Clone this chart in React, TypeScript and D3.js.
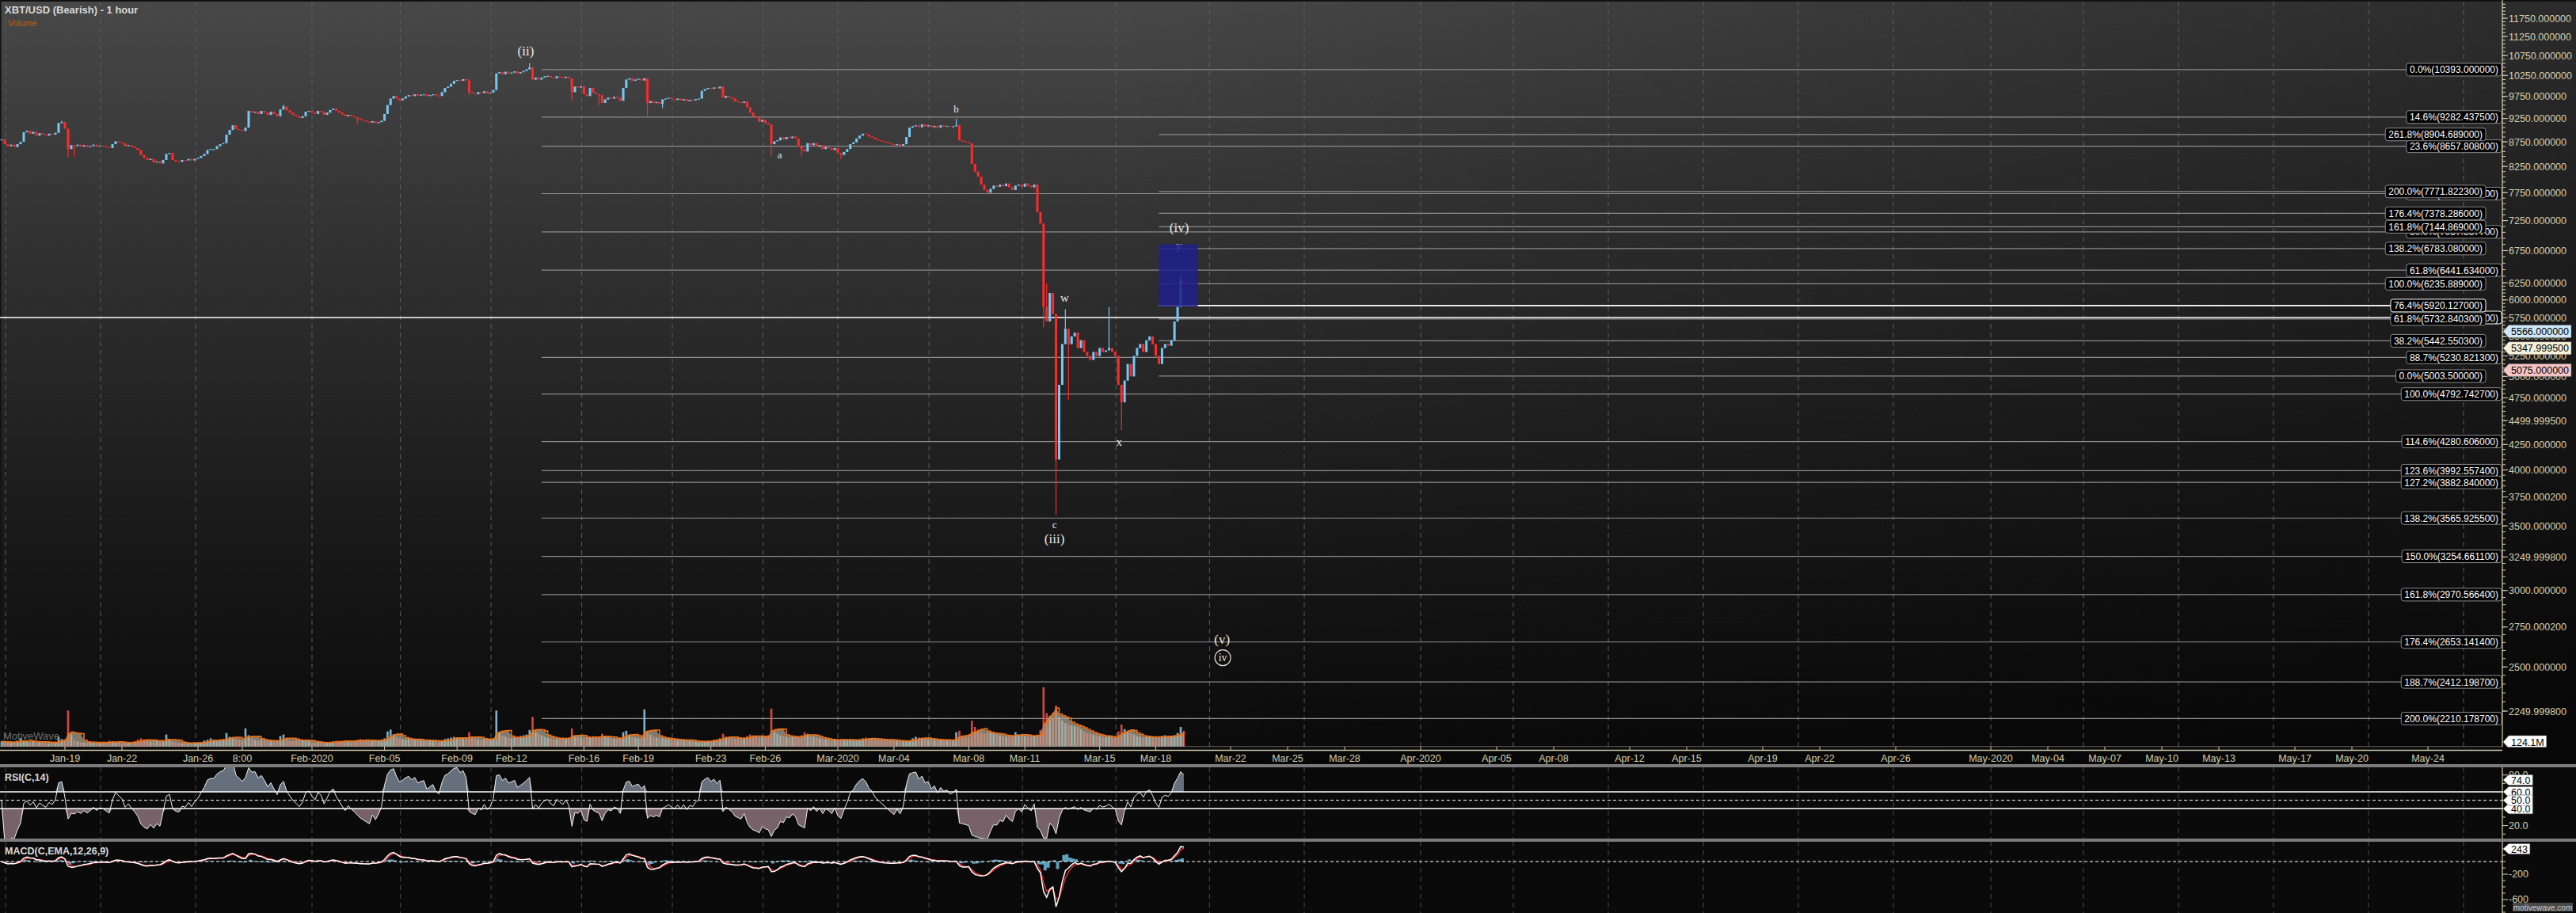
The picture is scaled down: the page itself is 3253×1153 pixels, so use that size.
import React, { useMemo } from 'react';
import * as d3 from 'd3';

// ---------------- data ----------------
// 4-hour closes, starting 2020-01-15 16:00 UTC
const janCloses = [8800, 8700,
  8660, 8690, 8640, 8700, 8750, 8950,
  8980, 8920, 8960, 8880, 8930, 8900,
  8880, 8920, 8900, 8940, 9150, 9170,
  9030, 8600, 8680, 8660, 8690, 8650,
  8680, 8640, 8660, 8690, 8650, 8670,
  8660, 8640, 8620, 8700, 8760, 8740,
  8720, 8660, 8680, 8650, 8620, 8580,
  8480, 8420, 8380, 8400, 8330, 8350,
  8310, 8380, 8500, 8520, 8380, 8350,
  8340, 8380, 8370, 8400, 8370, 8400,
  8420, 8460, 8500, 8580, 8600, 8600,
  8660, 8700, 8720, 8900, 9000, 9100,
  9020, 9000, 8980, 9050, 9420, 9380,
  9400, 9350, 9420, 9380, 9330, 9400,
  9350, 9300, 9450, 9520, 9430, 9380,
  9330, 9300, 9260, 9300, 9400, 9420];

const febCloses = [
  9380, 9350, 9420, 9400, 9330, 9380,
  9440, 9470, 9420, 9380, 9340, 9300,
  9330, 9300, 9280, 9250, 9220, 9200,
  9180, 9160, 9190, 9150, 9170, 9200,
  9350, 9550, 9700, 9760, 9700, 9660,
  9700, 9750, 9780, 9760, 9800, 9770,
  9790, 9800, 9760, 9780, 9800, 9770,
  9760, 9850, 9950, 9980, 10050, 10120,
  10140, 10120, 10160, 10130, 9850, 9820,
  9800, 9850, 9830, 9870, 9820, 9840,
  9900, 10300, 10330, 10280, 10340, 10300,
  10320, 10350, 10300, 10330, 10360, 10400,
  10450, 10150, 10200, 10150, 10200, 10230,
  10240, 10200, 10180, 10230, 10210, 10190,
  10220, 10180, 9850, 9980, 9960, 9990,
  9800, 9760, 9950, 9840, 9800, 9780,
  9600, 9680, 9720, 9700, 9740, 9720,
  9650, 9950, 10150, 10180, 10120, 10150,
  10170, 10130, 10180, 9600, 9640, 9600,
  9620, 9580, 9680, 9700, 9720, 9690,
  9670, 9700, 9660, 9690, 9640, 9670,
  9660, 9690, 9700, 9880, 9920, 9950,
  9930, 9960, 9940, 9980, 9720, 9760,
  9730, 9700, 9640, 9620, 9600, 9630,
  9500, 9380, 9300, 9260, 9180, 9220,
  9150, 9120, 8700, 8760, 8780, 8840,
  8800, 8850, 8830, 8860, 8820, 8650,
  8600, 8550, 8720, 8680, 8720, 8650,
  8680, 8600, 8640, 8620, 8580, 8620];

const marCloses = [
  8520, 8480, 8540, 8600, 8700, 8740,
  8820, 8880, 8920, 8900, 8860, 8840,
  8800, 8780, 8760, 8740, 8720, 8700,
  8680, 8700, 8670, 8700, 8850, 9050,
  9080, 9100, 9060, 9120, 9080, 9100,
  9060, 9090, 9050, 9100, 9080, 9090,
  9070, 9080, 9100, 8780, 8760, 8740,
  8720, 8300, 8150, 8050, 7900, 7800,
  7750, 7820, 7880, 7860, 7900, 7870,
  7920, 7850, 7800, 7880, 7900, 7860,
  7920, 7880, 7850, 7900, 7400, 7200,
  5900, 5700, 6100, 5800, 4100, 4900,
  5400, 5600, 5400, 5500, 5550, 5350,
  5450, 5300, 5250, 5200, 5300, 5250,
  5350, 5300, 5320, 5350, 5300, 5250,
  4900, 4700, 4950, 5150, 5000, 5250,
  5350, 5400, 5300, 5450, 5500, 5400,
  5250, 5150, 5350, 5400, 5380, 5450,
  5700, 5900, 6300, 6250];

// [bar index, low (0 = none), high (0 = none)]
const wicks: [number, number, number][] = [
  [19, 0, 9200], [21, 8440, 0], [23, 8440, 0], [89, 0, 9560], [113, 9120, 0],
  [150, 9780, 10170], [170, 0, 10550], [184, 9650, 0], [193, 9550, 0], [209, 9300, 0],
  [214, 9480, 0], [250, 8450, 0], [260, 8450, 0], [273, 8400, 0], [310, 0, 9240],
  [338, 5620, 7170], [339, 0, 6240], [342, 3591, 0], [343, 4200, 0], [345, 0, 5870],
  [346, 4730, 0], [359, 0, 5900], [363, 4400, 0], [382, 0, 6380],
];

// volume per 4h bar (millions, hourly average)
const janVolume = [140, 120,
  130, 110, 120, 160, 220, 150,
  130, 110, 150, 120, 140, 130,
  100, 90, 110, 130, 260, 200,
  180, 950, 320, 170, 140, 120,
  110, 100, 130, 120, 110, 100,
  100, 110, 160, 140, 120, 110,
  100, 100, 110, 130, 150, 190,
  220, 180, 160, 140, 180, 150,
  160, 140, 320, 170, 140, 110,
  100, 90, 100, 100, 90, 110,
  110, 120, 160, 180, 220, 160,
  140, 180, 200, 360, 260, 220,
  200, 180, 160, 480, 300, 220,
  180, 160, 190, 170, 150, 160,
  140, 160, 280, 320, 200, 160,
  150, 170, 200, 180, 160, 150];
const febVolume = [
  110, 100, 120, 110, 100, 110,
  120, 140, 160, 150, 130, 160,
  150, 140, 160, 180, 200, 170,
  160, 150, 180, 170, 150, 190,
  220, 400, 450, 320, 260, 220,
  200, 180, 220, 200, 180, 190,
  160, 150, 170, 180, 160, 140,
  130, 160, 200, 220, 240, 260,
  240, 210, 220, 200, 380, 260,
  220, 200, 180, 210, 190, 200,
  220, 950, 380, 290, 260, 240,
  220, 240, 260, 280, 300, 320,
  440, 780, 380, 340, 300, 260,
  240, 220, 210, 200, 220, 240,
  220, 240, 480, 280, 260, 240,
  220, 260, 240, 280, 260, 240,
  340, 260, 240, 220, 210, 220,
  230, 380, 420, 300, 260, 240,
  220, 230, 980, 380, 320, 260,
  240, 220, 230, 210, 200, 190,
  180, 170, 190, 180, 170, 160,
  140, 130, 120, 140, 150, 160,
  160, 180, 200, 220, 340, 260,
  240, 220, 210, 230, 220, 240,
  280, 320, 300, 260, 240, 260,
  280, 300, 1000, 380, 340, 300,
  280, 260, 240, 260, 280, 260,
  300, 380, 340, 280, 260, 240,
  220, 200, 190, 180, 170, 190];
const marVolume = [
  180, 200, 190, 180, 170, 160,
  180, 200, 220, 240, 220, 200,
  190, 180, 200, 190, 180, 170,
  160, 150, 140, 150, 160, 170,
  220, 260, 240, 220, 210, 200,
  190, 180, 170, 180, 190, 180,
  170, 160, 380, 420, 260, 240,
  260, 680, 520, 440, 380, 340,
  360, 380, 340, 320, 300, 280,
  260, 280, 300, 380, 320, 300,
  280, 260, 300, 280, 320, 440,
  1560, 880, 800, 740, 1080, 780,
  680, 620, 580, 560, 540, 520,
  460, 400, 360, 340, 320, 300,
  280, 260, 250, 300, 240, 230,
  400, 580, 460, 400, 360, 320,
  280, 260, 240, 260, 280, 250,
  240, 260, 280, 300, 280, 260,
  300, 360, 520, 420];

// Fibonacci sets: [percent, price]
const fibSetA: [string, number][] = [
  ['0.0%', 10393.0], ['14.6%', 9282.4375], ['23.6%', 8657.808], ['38.2%', 7732.2094],
  ['50.0%', 7057.8877], ['61.8%', 6441.634], ['76.4%', 5753.3034], ['88.7%', 5230.8213],
  ['100.0%', 4792.7427], ['114.6%', 4280.606], ['123.6%', 3992.5574], ['127.2%', 3882.84],
  ['138.2%', 3565.9255], ['150.0%', 3254.6611], ['161.8%', 2970.5664], ['176.4%', 2653.1414],
  ['188.7%', 2412.1987], ['200.0%', 2210.1787],
];
const fibSetB: [string, number][] = [
  ['261.8%', 8904.689], ['200.0%', 7771.8223], ['176.4%', 7378.286], ['161.8%', 7144.869],
  ['138.2%', 6783.08], ['100.0%', 6235.889], ['76.4%', 5920.127], ['61.8%', 5732.8403],
  ['38.2%', 5442.5503], ['0.0%', 5003.5],
];

const priceTicks = [11750, 11250, 10750, 10250, 9750, 9250, 8750, 8250, 7750, 7250, 6750, 6250,
  6000, 5750, 5500, 5250, 5000, 4750, 4499.9995, 4250, 4000, 3750.0002, 3500, 3249.9998, 3000,
  2750.0002, 2500, 2249.9998];

const priceTags: [string, number, string][] = [
  ['5566.000000', 5566, '#cfe7f8'],
  ['5347.999500', 5347.9995, '#f5f1d9'],
  ['5075.000000', 5075, '#f6c4c4'],
];

// [label, month (0-based), day, hour]
const dateLabels: [string, number, number, number][] = [
  ['Jan-19', 0, 19, 0], ['Jan-22', 0, 22, 0], ['Jan-26', 0, 26, 0], ['8:00', 0, 28, 8],
  ['Feb-2020', 1, 1, 0], ['Feb-05', 1, 5, 0], ['Feb-09', 1, 9, 0], ['Feb-12', 1, 12, 0],
  ['Feb-16', 1, 16, 0], ['Feb-19', 1, 19, 0], ['Feb-23', 1, 23, 0], ['Feb-26', 1, 26, 0],
  ['Mar-2020', 2, 1, 0], ['Mar-04', 2, 4, 0], ['Mar-08', 2, 8, 0], ['Mar-11', 2, 11, 0],
  ['Mar-15', 2, 15, 0], ['Mar-18', 2, 18, 0], ['Mar-22', 2, 22, 0], ['Mar-25', 2, 25, 0],
  ['Mar-28', 2, 28, 0], ['Apr-2020', 3, 1, 0], ['Apr-05', 3, 5, 0], ['Apr-08', 3, 8, 0],
  ['Apr-12', 3, 12, 0], ['Apr-15', 3, 15, 0], ['Apr-19', 3, 19, 0], ['Apr-22', 3, 22, 0],
  ['Apr-26', 3, 26, 0], ['May-2020', 4, 1, 0], ['May-04', 4, 4, 0], ['May-07', 4, 7, 0],
  ['May-10', 4, 10, 0], ['May-13', 4, 13, 0], ['May-17', 4, 17, 0], ['May-20', 4, 20, 0],
  ['May-24', 4, 24, 0],
];

// wave labels: text, month, day, hour, price, font size, circled
const waveLabels: [string, number, number, number, number, number, boolean][] = [
  ['(ii)', 1, 12, 19, 10870, 17, false],
  ['a', 1, 26, 19, 8489, 13, false],
  ['b', 2, 7, 8, 9472, 13, false],
  ['c', 2, 12, 14, 3512, 13, false],
  ['(iii)', 2, 12, 14, 3394, 17, false],
  ['w', 2, 13, 3, 6030, 15, false],
  ['x', 2, 16, 1, 4274, 15, false],
  ['(iv)', 2, 19, 6, 7135, 17, false],
  ['(v)', 2, 21, 13, 2670, 17, false],
  ['iv', 2, 21, 14, 2555, 14, true],
];

const rsiLevels = [60, 50, 40];

// ---------------- layout ----------------
const W = 3253;
const H = 1153;
const AXIS_X = 3160;
const MAIN_BOTTOM = 943;
const DATE_LINE = 947.5;
const RSI_TOP = 969, RSI_BOTTOM = 1059;
const MACD_TOP = 1063, MACD_BOTTOM = 1153;
const FONT = '"Liberation Sans", Arial, Helvetica, sans-serif';
const SERIF = '"Liberation Serif", "DejaVu Serif", Times, serif';
const BEIGE = '#d6cfae';
const UP = '#76c8f4';
const DOWN = '#ff2a2a';

const utc = (m: number, d: number, h = 0) => new Date(Date.UTC(2020, m, d, h));
const START = Date.UTC(2020, 0, 15, 16);
const STEP = 4 * 3600 * 1000;

let measureCtx: CanvasRenderingContext2D | null = null;
function textW(t: string, font: string) {
  if (!measureCtx && typeof document !== 'undefined') measureCtx = document.createElement('canvas').getContext('2d');
  if (!measureCtx) return t.length * 6.5;
  measureCtx.font = font;
  return measureCtx.measureText(t).width;
}

export default function App() {
  const model = useMemo(() => {
    const closes = [...janCloses, ...febCloses, ...marCloses];
    const volumes = [...janVolume, ...febVolume, ...marVolume];
    const wickMap = new Map(wicks.map((w) => [w[0], w]));
    const bars = closes.map((c, i) => {
      const o = i === 0 ? c : closes[i - 1];
      let hi = Math.max(o, c), lo = Math.min(o, c);
      const w = wickMap.get(i);
      if (w) { if (w[1]) lo = Math.min(lo, w[1]); if (w[2]) hi = Math.max(hi, w[2]); }
      return { t: new Date(START + i * STEP), o, c, hi, lo, up: c >= o, v: volumes[i] ?? 0 };
    });
    // RSI (Wilder smoothing, period 14)
    const aR = 1 - Math.pow(1 - 1 / 14, 2);
    let ag = 0, al = 0;
    const rsi = closes.map((c, i) => {
      if (i === 0) return 50;
      const d = c - closes[i - 1];
      const g = Math.max(d, 0), l = Math.max(-d, 0);
      if (i === 1) { ag = g; al = l; } else { ag += aR * (g - ag); al += aR * (l - al); }
      if (al === 0) return 100;
      return 100 - 100 / (1 + ag / al);
    });
    const hPer = 4;
    const alpha = (n: number) => 1 - Math.pow(1 - 2 / (n + 1), hPer);
    const af = alpha(12), as = alpha(26), asg = alpha(9);
    let ef = closes[0], es = closes[0], sg = 0;
    const macd: number[] = [], signal: number[] = [], hist: number[] = [];
    closes.forEach((c, i) => {
      ef += af * (c - ef); es += as * (c - es);
      const m = ef - es;
      sg = i === 0 ? m : sg + asg * (m - sg);
      macd.push(m); signal.push(sg); hist.push(m - sg);
    });
    const volMA = volumes.map((_, i) => d3.mean(volumes.slice(Math.max(0, i - 4), i + 1)) as number);
    return { bars, rsi, macd, signal, hist, volMA };
  }, []);

  const x = d3.scaleUtc()
    .domain([utc(0, 19), utc(1, 1), utc(2, 1), utc(2, 22), utc(4, 30)])
    .range([82, 394, 1058, 1554, 3210]);
  const y = d3.scaleLog().domain([11750, 2249.9998]).range([23, 898]);
  const volY = d3.scaleLinear().domain([0, 1600]).range([MAIN_BOTTOM, 866]);
  const rsiY = d3.scaleLinear().domain([40, 60]).range([1021.3, 1000]);
  const macdY = d3.scaleLinear().domain([0, -200]).range([1088, 1104]);

  const { bars, rsi, macd, signal, hist, volMA } = model;

  // grid dates
  const gridX: number[] = [];
  for (let m = 0; m < 5; m++) {
    for (const d of [1, 5, 10, 15, 20, 25]) {
      const gx = x(utc(m, d, d === 1 ? 0 : 21));
      if (gx >= 0 && gx <= AXIS_X) gridX.push(gx);
    }
  }

  const xA = x(utc(1, 13, 16));
  const xB = x(utc(2, 18, 4));
  const rightA = 3159, rightB = 3139;
  const fibFont = `12px ${FONT}`;

  const minorTicks: number[] = [];
  for (let p = 2250; p <= 12200; p += p < 6250 ? 50 : 100) minorTicks.push(p);

  const rsiLine = d3.line<number>().x((_, i) => x(bars[i].t)).y((v) => rsiY(v));
  const rsiUp = d3.area<number>().x((_, i) => x(bars[i].t)).y0(rsiY(60)).y1((v) => rsiY(Math.max(v, 60)));
  const rsiDn = d3.area<number>().x((_, i) => x(bars[i].t)).y0(rsiY(40)).y1((v) => rsiY(Math.min(v, 40)));
  const macdLine = d3.line<number>().x((_, i) => x(bars[i].t)).y((v) => macdY(v));
  const histArea = d3.area<number>().x((_, i) => x(bars[i].t)).y0(macdY(0)).y1((v) => macdY(v)).curve(d3.curveStepAfter);
  const volMAArea = d3.area<number>().x((_, i) => x(bars[i].t)).y0(MAIN_BOTTOM).y1((v) => volY(v));
  const volMALine = d3.line<number>().x((_, i) => x(bars[i].t)).y((v) => volY(v)).curve(d3.curveStepAfter);

  const fibLabel = (pct: string, price: number, right: number, key: string) => {
    const t = `${pct}(${price.toFixed(6)})`;
    const w = textW(t, fibFont) + 8;
    const yy = y(price);
    const white = pct === '76.4%';
    return (
      <g key={key}>
        <rect x={right - w} y={yy - 8} width={w} height={16} rx={3} fill="#000" stroke={white ? '#ffffff' : '#8a8a8a'} strokeWidth={1} />
        <text x={right - w + 4} y={yy + 0.5} fill="#ffffff" fontSize={12} fontFamily={FONT} dominantBaseline="central">{t}</text>
      </g>
    );
  };

  const tag = (label: string, yy: number, fill: string, key: string, h = 16, fs = 12.5) => {
    const w = textW(label, `${fs}px ${FONT}`) + 6;
    const x0 = AXIS_X + 1, x1 = AXIS_X + 8;
    return (
      <g key={key}>
        <path d={`M${x0},${yy} L${x1},${yy - h / 2} H${x1 + w} V${yy + h / 2} H${x1} Z`} fill={fill} stroke="#666" strokeWidth={0.5} />
        <text x={x1 + 3} y={yy + 0.5} fill="#000" fontSize={fs} fontFamily={FONT} dominantBaseline="central">{label}</text>
      </g>
    );
  };

  const boxTop = y(6850), boxBot = y(5905);
  const boxX0 = x(utc(2, 18, 4)), boxX1 = x(utc(2, 20, 6));

  return (
    <svg width={W} height={H} style={{ position: 'absolute', left: 0, top: 0, display: 'block' }} xmlns="http://www.w3.org/2000/svg">
      <defs>
        <linearGradient id="bgV" x1="0" y1="0" x2="0" y2="1">
          <stop offset="0" stopColor="#484848" />
          <stop offset="0.3" stopColor="#333333" />
          <stop offset="0.7" stopColor="#1a1a1a" />
          <stop offset="1" stopColor="#0b0b0b" />
        </linearGradient>
        <linearGradient id="bgH" x1="0" y1="0" x2="1" y2="0">
          <stop offset="0.43" stopColor="#000" stopOpacity="0" />
          <stop offset="1" stopColor="#000" stopOpacity="0.4" />
        </linearGradient>
        <clipPath id="mainClip"><rect x={0} y={0} width={AXIS_X} height={MAIN_BOTTOM} /></clipPath>
        <clipPath id="rsiClip"><rect x={0} y={RSI_TOP} width={AXIS_X} height={RSI_BOTTOM - RSI_TOP} /></clipPath>
        <clipPath id="macdClip"><rect x={0} y={MACD_TOP} width={AXIS_X} height={MACD_BOTTOM - MACD_TOP} /></clipPath>
      </defs>

      {/* backgrounds */}
      <rect x={0} y={0} width={W} height={H} fill="#0a0a0a" />
      <rect x={0} y={0} width={W} height={MAIN_BOTTOM} fill="url(#bgV)" />
      <rect x={0} y={0} width={W} height={MAIN_BOTTOM} fill="url(#bgH)" />
      <rect x={0} y={0} width={W} height={2} fill="#111" />
      <rect x={0} y={0} width={1.5} height={MAIN_BOTTOM} fill="#111" />

      {/* vertical grid */}
      {gridX.map((gx, i) => (
        <g key={`g${i}`}>
          <line x1={gx} x2={gx} y1={2} y2={MAIN_BOTTOM} stroke="#5d5d5d" strokeDasharray="6,5" strokeWidth={1} />
          <line x1={gx} x2={gx} y1={RSI_TOP} y2={RSI_BOTTOM} stroke="#4a4a4a" strokeDasharray="6,5" strokeWidth={1} />
          <line x1={gx} x2={gx} y1={MACD_TOP} y2={MACD_BOTTOM} stroke="#4a4a4a" strokeDasharray="6,5" strokeWidth={1} />
        </g>
      ))}

      <g clipPath="url(#mainClip)">
        {/* fib lines */}
        {fibSetA.map(([pct, p], i) => (
          <line key={`fa${i}`} x1={pct === '76.4%' ? 0 : xA} x2={rightA - 20} y1={y(p)} y2={y(p)}
            stroke={pct === '76.4%' ? '#ffffff' : '#8c8c8c'} strokeWidth={pct === '76.4%' ? 1.6 : 1.2} />
        ))}
        {fibSetB.map(([pct, p], i) => (
          <line key={`fb${i}`} x1={xB} x2={rightB - 20} y1={y(p)} y2={y(p)}
            stroke={pct === '76.4%' ? '#ffffff' : '#8c8c8c'} strokeWidth={pct === '76.4%' ? 1.6 : 1.2} />
        ))}

        {/* volume */}
        {bars.map((b, i) => (
          <rect key={`v${i}`} x={x(b.t) - 1.3} y={volY(b.v)} width={2.6} height={MAIN_BOTTOM - volY(b.v)}
            fill={b.up ? '#8cc4e0' : '#e8504a'} opacity={0.9} />
        ))}
        <path d={volMAArea(volMA) ?? ''} fill="#b3a996" opacity={0.7} />
        <path d={volMALine(volMA) ?? ''} fill="none" stroke="#f07010" strokeWidth={1.6} />
        <text x={4} y={934} fill="#9a9a9a" fontSize={13} fontFamily={FONT} opacity={0.7}>MotiveWave</text>

        {/* candles */}
        {bars.map((b, i) => {
          const cx = x(b.t);
          const col = b.up ? UP : DOWN;
          const yt = y(Math.max(b.o, b.c)), yb = y(Math.min(b.o, b.c));
          return (
            <g key={`c${i}`}>
              <line x1={cx} x2={cx} y1={y(b.hi)} y2={y(b.lo)} stroke={col} strokeWidth={1.2} />
              <rect x={cx - 1.5} y={yt} width={3} height={Math.max(1.2, yb - yt)} fill={col} />
            </g>
          );
        })}

        {/* y label under the box */}
        <text x={x(utc(2, 19, 6))} y={y(6830)} fill="#e6e6e6" fontSize={15} fontFamily={SERIF} textAnchor="middle" dominantBaseline="central">y</text>
        {/* target box */}
        <rect x={boxX0} y={boxTop} width={boxX1 - boxX0} height={boxBot - boxTop} fill="rgb(30,30,140)" opacity={0.85} />

        {/* wave labels */}
        {waveLabels.map(([t, m, d, h, p, fs, circ], i) => {
          const lx = x(utc(m, d, h)), ly = y(p);
          return (
            <g key={`w${i}`}>
              {circ && <circle cx={lx} cy={ly} r={10} fill="none" stroke="#e0e0e0" strokeWidth={1.2} />}
              <text x={lx} y={ly} fill="#e6e6e6" fontSize={fs} fontFamily={SERIF} textAnchor="middle" dominantBaseline="central">{t}</text>
            </g>
          );
        })}

        {/* fib labels */}
        {fibSetA.map(([pct, p], i) => fibLabel(pct, p, rightA, `la${i}`))}
        {fibSetB.map(([pct, p], i) => fibLabel(pct, p, rightB, `lb${i}`))}
      </g>

      {/* title */}
      <text x={6} y={17} fill="#d8d8d8" fontSize={13} fontWeight="bold" fontFamily={FONT}>XBT/USD (Bearish) - 1 hour</text>
      <text x={10} y={33} fill="#c0600a" fontSize={11} fontFamily={FONT}>Volume</text>

      {/* price axis */}
      <line x1={AXIS_X} x2={AXIS_X} y1={0} y2={DATE_LINE} stroke={BEIGE} strokeWidth={1.2} />
      {minorTicks.map((p, i) => y(p) >= 2 && y(p) <= 935 ? (
        <line key={`mt${i}`} x1={AXIS_X} x2={AXIS_X + 4} y1={y(p)} y2={y(p)} stroke={BEIGE} strokeWidth={1} />
      ) : null)}
      {priceTicks.map((p, i) => (
        <g key={`pt${i}`}>
          <line x1={AXIS_X} x2={AXIS_X + 7} y1={y(p)} y2={y(p)} stroke={BEIGE} strokeWidth={1} />
          <text x={3168} y={y(p) + 0.5} fill={BEIGE} fontSize={12.5} fontFamily={FONT} dominantBaseline="central">{p.toFixed(6)}</text>
        </g>
      ))}
      {priceTags.map(([l, p, f], i) => tag(l, y(p), f, `tg${i}`))}
      {tag('124.1M', volY(124.1), '#ffffff', 'vol')}

      {/* date axis */}
      <line x1={0} x2={AXIS_X} y1={MAIN_BOTTOM} y2={MAIN_BOTTOM} stroke="#8a8a8a" strokeWidth={1} />
      <rect x={0} y={MAIN_BOTTOM + 0.5} width={W} height={965 - MAIN_BOTTOM} fill="#070707" />
      <line x1={0} x2={AXIS_X} y1={DATE_LINE} y2={DATE_LINE} stroke={BEIGE} strokeWidth={1.3} />
      {dateLabels.map(([t, m, d, h], i) => {
        const lx = x(utc(m, d, h));
        return (
          <g key={`dl${i}`}>
            <line x1={lx} x2={lx} y1={MAIN_BOTTOM} y2={DATE_LINE} stroke={BEIGE} strokeWidth={1} />
            <text x={lx} y={957.5} fill={BEIGE} fontSize={12.5} fontFamily={FONT} textAnchor="middle" dominantBaseline="central">{t}</text>
          </g>
        );
      })}

      {/* separators */}
      <rect x={0} y={965} width={W} height={4} fill="#7b7b7b" />
      <rect x={0} y={1059} width={W} height={4} fill="#7b7b7b" />

      {/* RSI panel */}
      <g clipPath="url(#rsiClip)">
        <path d={rsiUp(rsi) ?? ''} fill="#65707c" />
        <path d={rsiDn(rsi) ?? ''} fill="#77626a" />
        {rsiLevels.map((lv) => (
          <line key={`rl${lv}`} x1={0} x2={AXIS_X} y1={rsiY(lv)} y2={rsiY(lv)} stroke="#ffffff"
            strokeWidth={lv === 50 ? 1 : 1.5} strokeDasharray={lv === 50 ? '4,3' : undefined} />
        ))}
        <path d={rsiLine(rsi) ?? ''} fill="none" stroke="#f2f2f2" strokeWidth={1} />
      </g>
      <text x={6} y={986} fill="#d8d8d8" fontSize={12.5} fontWeight="bold" fontFamily={FONT}>RSI(C,14)</text>
      <line x1={AXIS_X} x2={AXIS_X} y1={RSI_TOP} y2={RSI_BOTTOM} stroke={BEIGE} strokeWidth={1.2} />
      {[10, 20, 30, 40, 50, 60, 70, 80].map((v) => (
        <line key={`rt${v}`} x1={AXIS_X} x2={AXIS_X + (v % 20 === 0 ? 7 : 4)} y1={rsiY(v)} y2={rsiY(v)} stroke={BEIGE} />
      ))}
      <text x={3168} y={rsiY(80)} fill={BEIGE} fontSize={12.5} fontFamily={FONT} dominantBaseline="central">80.0</text>
      <text x={3168} y={rsiY(20)} fill={BEIGE} fontSize={12.5} fontFamily={FONT} dominantBaseline="central">20.0</text>
      {tag('74.0', rsiY(74), '#ffffff', 'r74', 13)}
      {tag('60.0', rsiY(60), '#ffffff', 'r60', 13)}
      {tag('40.0', rsiY(40), '#ffffff', 'r40', 13)}
      {tag('50.0', rsiY(50), '#ffffff', 'r50', 13)}

      {/* MACD panel */}
      <g clipPath="url(#macdClip)">
        <path d={histArea(hist) ?? ''} fill="#5f9fbd" />
        <line x1={0} x2={AXIS_X} y1={macdY(0)} y2={macdY(0)} stroke="#ffffff" strokeWidth={1} strokeDasharray="4,3" />
        <path d={macdLine(signal) ?? ''} fill="none" stroke="#ff3030" strokeWidth={1.3} />
        <path d={macdLine(macd) ?? ''} fill="none" stroke="#ffffff" strokeWidth={1.5} />
      </g>
      <text x={6} y={1079} fill="#d8d8d8" fontSize={12.5} fontWeight="bold" fontFamily={FONT}>MACD(C,EMA,12,26,9)</text>
      <line x1={AXIS_X} x2={AXIS_X} y1={MACD_TOP} y2={MACD_BOTTOM} stroke={BEIGE} strokeWidth={1.2} />
      {[200, 100, 0, -100, -200, -300, -400, -500, -600, -700, -800].map((v) => (
        <line key={`mt${v}`} x1={AXIS_X} x2={AXIS_X + (v % 400 === 200 || v % 400 === -200 ? 7 : 4)} y1={macdY(v)} y2={macdY(v)} stroke={BEIGE} />
      ))}
      <text x={3168} y={macdY(-200)} fill={BEIGE} fontSize={12.5} fontFamily={FONT} dominantBaseline="central">-200</text>
      <text x={3168} y={macdY(-600)} fill={BEIGE} fontSize={12.5} fontFamily={FONT} dominantBaseline="central">-600</text>
      {tag('243', Math.max(macdY(243), MACD_TOP + 9), '#ffffff', 'm243', 13)}

      {/* watermark */}
      <rect x={3173} y={1140} width={76} height={11} fill="#4a4a4a" />
      <text x={3211} y={1146} fill="#cfcfcf" fontSize={10} fontFamily={FONT} textAnchor="middle" dominantBaseline="central">motivewave.com</text>
    </svg>
  );
}
